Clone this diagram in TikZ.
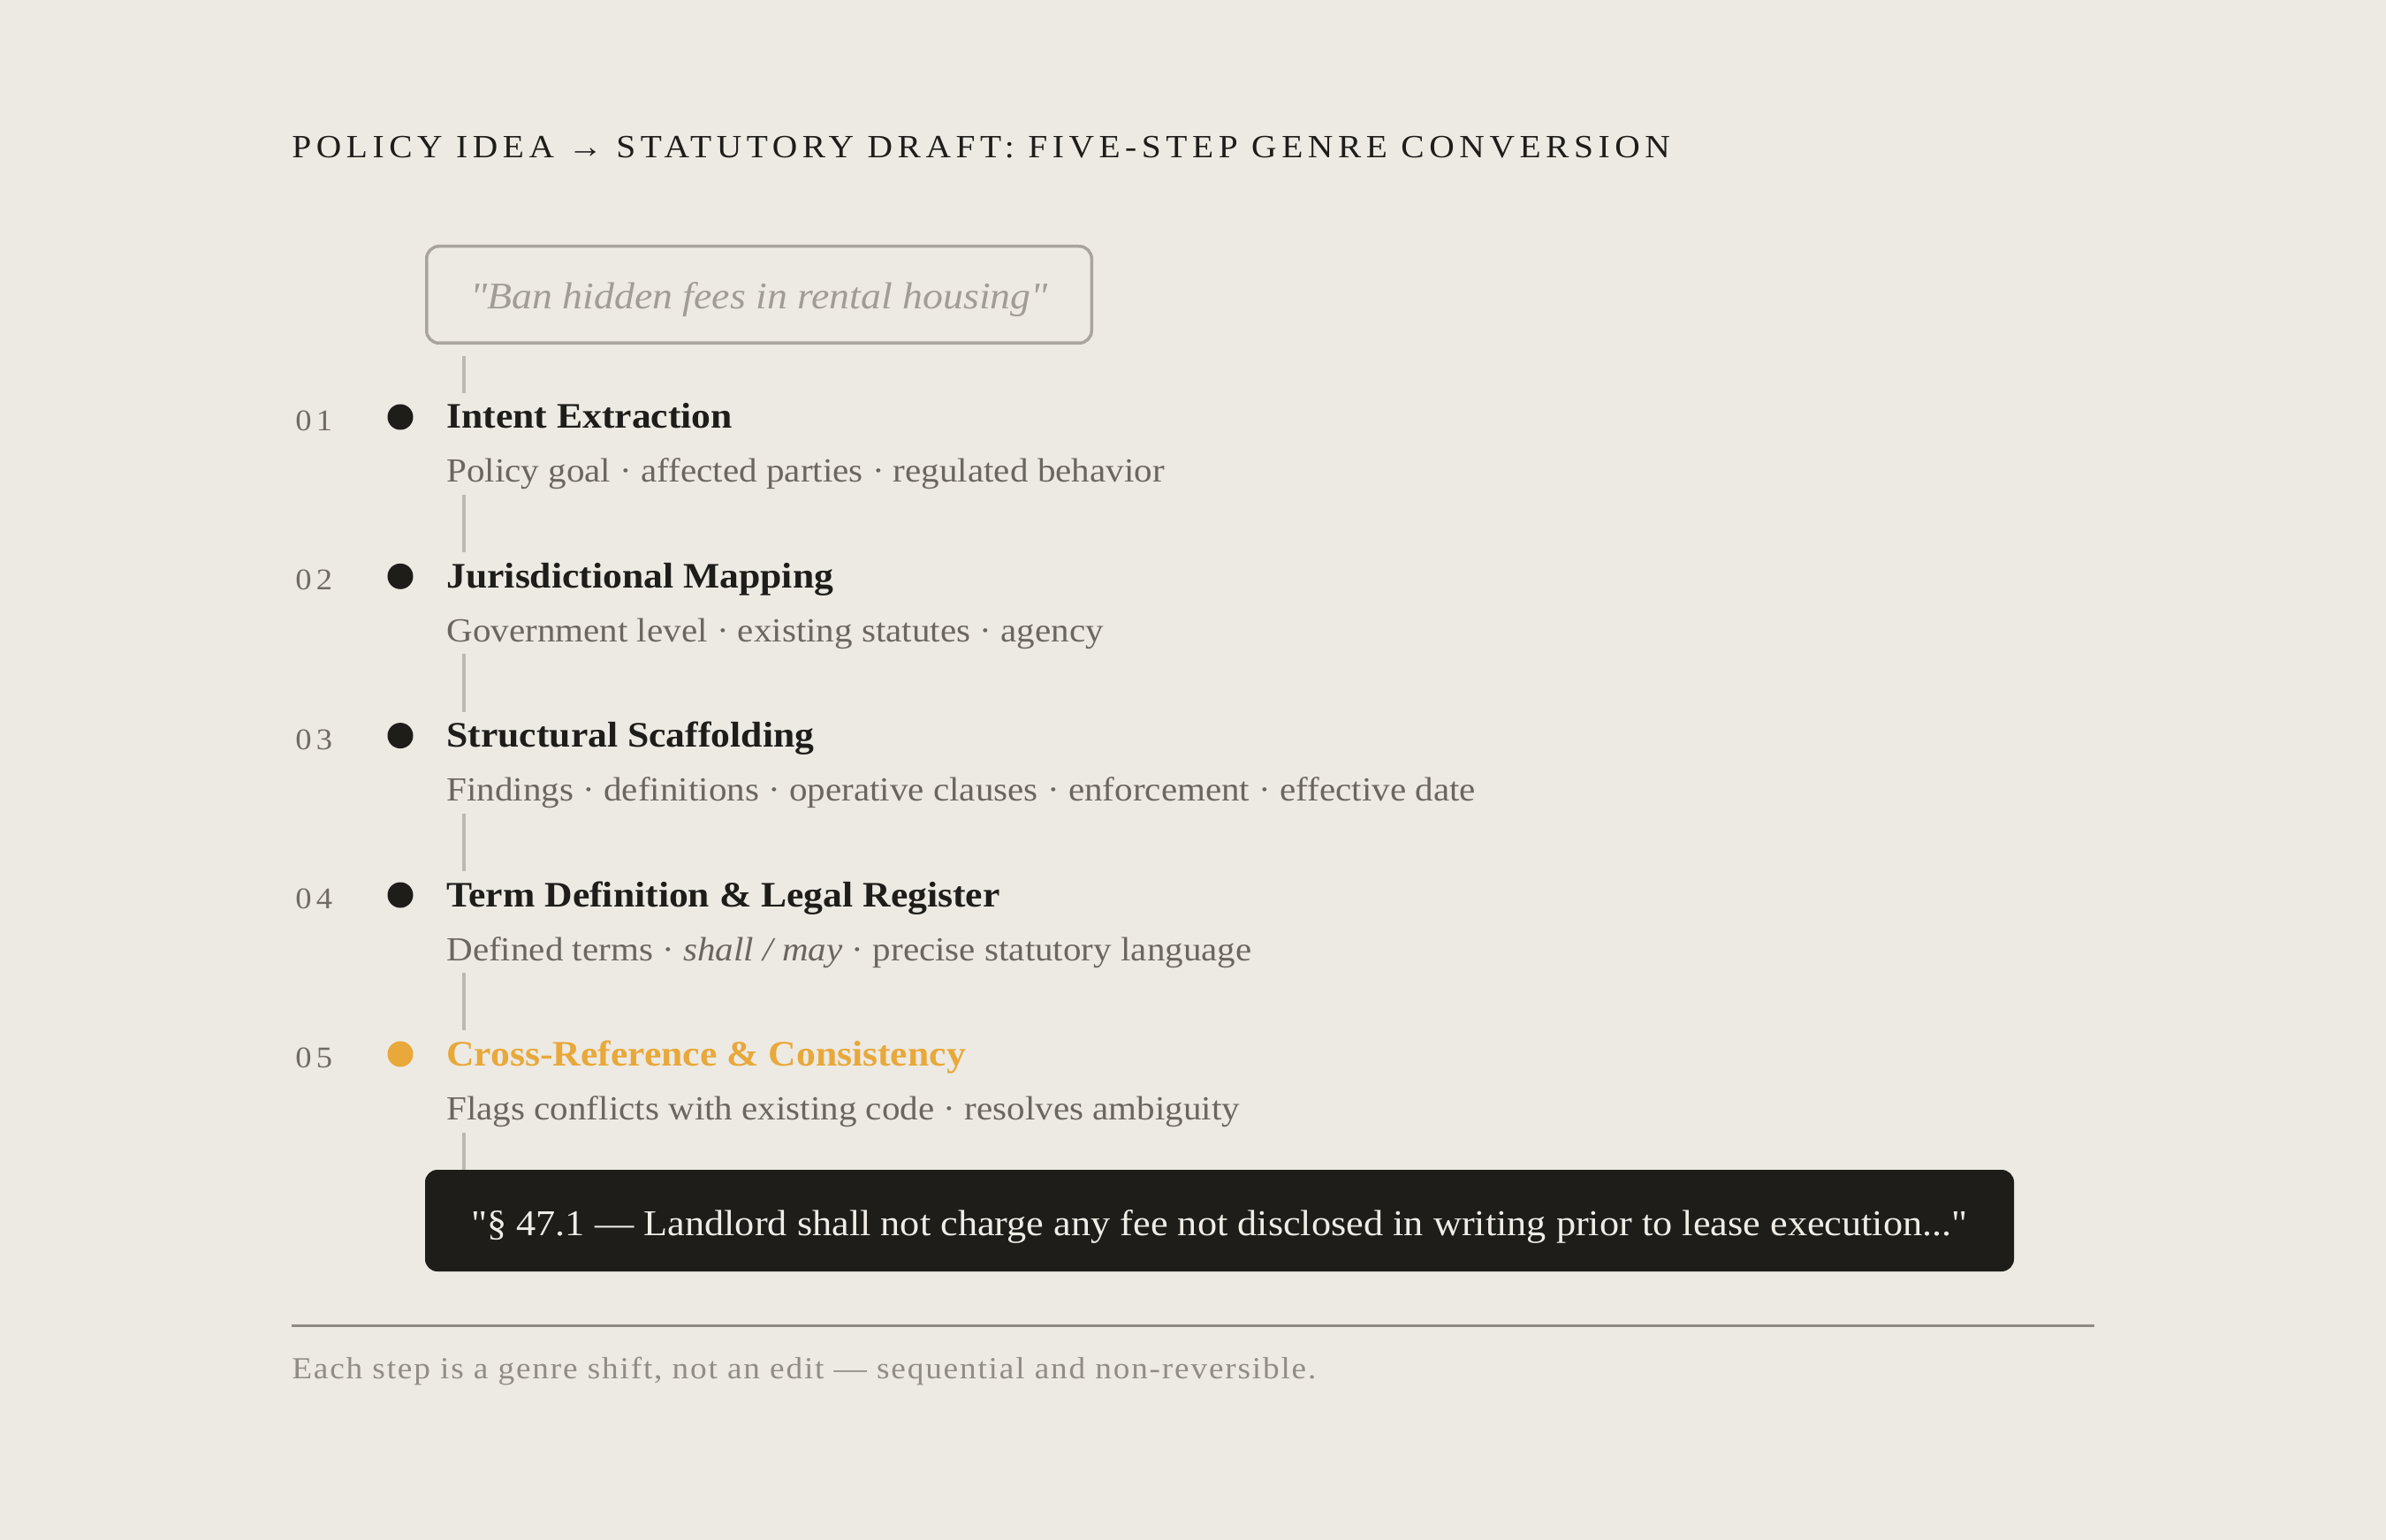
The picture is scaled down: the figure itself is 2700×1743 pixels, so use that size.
\documentclass[tikz,border=0pt]{standalone}
\usepackage{fontspec}
\setmainfont{Liberation Serif}[FakeStretch=1.075, Ligatures=TeXOff]
\newfontfamily\ttlfont{Liberation Serif}[FakeStretch=1.075, LetterSpace=15.2, Ligatures=TeXOff]
\newfontfamily\numfont{Liberation Serif}[FakeStretch=1.075, LetterSpace=15, Ligatures=TeXOff]
\newfontfamily\footfont{Liberation Serif}[FakeStretch=1.075, LetterSpace=5.2, Ligatures=TeXOff]
\definecolor{bg}{HTML}{EDEAE3}
\definecolor{ink}{HTML}{1E1D1A}
\definecolor{subgray}{HTML}{6B6760}
\definecolor{numgray}{HTML}{706C65}
\definecolor{ideabd}{HTML}{A9A59E}
\definecolor{ideatx}{HTML}{A19D96}
\definecolor{conncol}{HTML}{BDB9B1}
\definecolor{accent}{HTML}{E8A83A}
\definecolor{rulecol}{HTML}{8F8B84}
\definecolor{foottx}{HTML}{918D86}
\definecolor{boxtx}{HTML}{F0EDE6}
\tikzset{
  ttl/.style={anchor=base west, inner sep=0pt, text=ink, font=\ttlfont\fontsize{18.35pt}{22pt}\selectfont},
  steptitle/.style={anchor=base west, inner sep=0pt, text=ink, font=\bfseries\fontsize{20.3pt}{24pt}\selectfont},
  stepsub/.style={anchor=base west, inner sep=0pt, text=subgray, font=\fontsize{19.1pt}{23pt}\selectfont},
  stepnum/.style={anchor=base west, inner sep=0pt, text=numgray, font=\numfont\fontsize{17pt}{20pt}\selectfont},
  stepdot/.style={circle, fill=ink, minimum size=14.5pt, inner sep=0pt},
  conn/.style={draw=conncol, line width=2.25pt},
  ideabox/.style={draw=ideabd, line width=1.75pt, rounded corners=7pt, minimum width=376.25pt, minimum height=54.75pt, inner sep=0pt, text=ideatx, font=\itshape\fontsize{21.3pt}{25pt}\selectfont, text height=16.5pt, text depth=0pt},
  finalbox/.style={fill=ink, rounded corners=7pt, minimum width=899pt, minimum height=57.5pt, inner sep=0pt, text=boxtx, font=\fontsize{20.6pt}{25pt}\selectfont, text height=16.5pt, text depth=0pt},
  footer/.style={anchor=base west, inner sep=0pt, text=foottx, font=\footfont\fontsize{17.35pt}{21pt}\selectfont},
}
\begin{document}
\begin{tikzpicture}[x=0.5pt,y=-0.5pt]
\fill[bg] (0,0) rectangle (2700,1743);
\useasboundingbox (0,0) rectangle (2700,1743);

% title
\node[ttl] (title) at (330,179) {POLICY IDEA → STATUTORY DRAFT: FIVE-STEP GENRE CONVERSION};

% idea box
\node[ideabox] (idea) at (859,333.5) {"Ban hidden fees in rental housing"};

% connector coordinates
\coordinate (c0a) at (525,403);   \coordinate (c0b) at (525,445);
\coordinate (c1a) at (525,560);   \coordinate (c1b) at (525,625.3);
\coordinate (c2a) at (525,740.3); \coordinate (c2b) at (525,805.6);
\coordinate (c3a) at (525,920.6); \coordinate (c3b) at (525,986);
\coordinate (c4a) at (525,1101);  \coordinate (c4b) at (525,1166);
\coordinate (c5a) at (525,1282);  \coordinate (c5b) at (525,1330);
\draw[conn] (c0a) -- (c0b);
\draw[conn] (c1a) -- (c1b);
\draw[conn] (c2a) -- (c2b);
\draw[conn] (c3a) -- (c3b);
\draw[conn] (c4a) -- (c4b);
\draw[conn] (c5a) -- (c5b);

% step 1
\node[stepnum] (n1) at (334,487.5) {01};
\node[stepdot] (d1) at (453,472) {};
\node[steptitle] (t1) at (505,485) {Intent Extraction};
\node[stepsub] (s1) at (505,546) {Policy goal · affected parties · regulated behavior};

% step 2
\node[stepnum] (n2) at (334,667.8) {02};
\node[stepdot] (d2) at (453,652.3) {};
\node[steptitle] (t2) at (505,665.3) {Jurisdictional Mapping};
\node[stepsub] (s2) at (505,726.3) {Government level · existing statutes · agency};

% step 3
\node[stepnum] (n3) at (334,848.1) {03};
\node[stepdot] (d3) at (453,832.6) {};
\node[steptitle] (t3) at (505,845.6) {Structural Scaffolding};
\node[stepsub] (s3) at (505,906.6) {Findings · definitions · operative clauses · enforcement · effective date};

% step 4
\node[stepnum] (n4) at (334,1028.5) {04};
\node[stepdot] (d4) at (453,1013) {};
\node[steptitle] (t4) at (505,1026) {Term Definition \& Legal Register};
\node[stepsub] (s4) at (505,1087) {Defined terms · \textit{shall / may} · precise statutory language};

% step 5
\node[stepnum] (n5) at (334,1208.5) {05};
\node[stepdot, fill=accent] (d5) at (453,1193) {};
\node[steptitle, text=accent] (t5) at (505,1206) {Cross-Reference \& Consistency};
\node[stepsub] (s5) at (505,1267) {Flags conflicts with existing code · resolves ambiguity};

% final box
\node[finalbox] (final) at (1380,1381.5) {"§ 47.1 — Landlord shall not charge any fee not disclosed in writing prior to lease execution..."};

% rule and footer
\coordinate (r1) at (330,1500); \coordinate (r2) at (2370,1500);
\draw[draw=rulecol, line width=1.5pt] (r1) -- (r2);
\node[footer] (foot) at (330,1560) {Each step is a genre shift, not an edit — sequential and non-reversible.};
\end{tikzpicture}
\end{document}
